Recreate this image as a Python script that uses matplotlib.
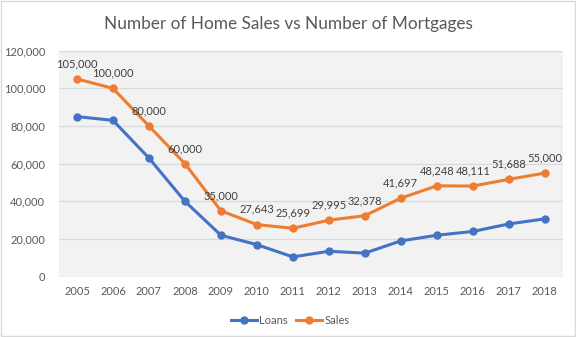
import matplotlib.pyplot as plt
from matplotlib.patches import Rectangle
from matplotlib.ticker import FuncFormatter

plt.rcParams['font.family'] = ['Lato', 'DejaVu Sans']

years = ['2005', '2006', '2007', '2008', '2009', '2010', '2011',
         '2012', '2013', '2014', '2015', '2016', '2017', '2018']
loans = [85000, 83000, 63000, 40000, 22000, 17000, 10500,
         13500, 12500, 19000, 22000, 24000, 28000, 30700]
sales = [105000, 100000, 80000, 60000, 35000, 27643, 25699,
         29995, 32378, 41697, 48248, 48111, 51688, 55000]

fig = plt.figure(figsize=(5.76, 3.37), dpi=100)
ax = fig.add_axes([0.1024, 0.179, 0.8746, 0.6706])

x = list(range(len(years)))
ax.plot(x, loans, color='#4472C4', lw=2.2, marker='o', ms=5, label='Loans')
ax.plot(x, sales, color='#ED7D31', lw=2.2, marker='o', ms=5, label='Sales')

# data labels above sales points
for xi, v in zip(x, sales):
    ax.annotate(f'{v:,}', (xi, v), xytext=(0, 7), textcoords='offset points',
                ha='center', va='bottom', fontsize=8, color='#404040')

ax.set_xlim(-0.5, len(years) - 0.5)
ax.set_ylim(0, 120000)
ax.set_yticks(range(0, 120001, 20000))
ax.yaxis.set_major_formatter(FuncFormatter(lambda v, p: f'{int(v):,}'))
ax.set_xticks(x)
ax.set_xticklabels(years)
ax.tick_params(axis='both', length=0, labelsize=8, labelcolor='#595959')
ax.tick_params(axis='y', pad=10)
ax.tick_params(axis='x', pad=7)

ax.set_facecolor('#F2F2F2')
ax.grid(axis='y', color='#D9D9D9', lw=0.9)
ax.set_axisbelow(True)
for s in ax.spines.values():
    s.set_visible(False)

fig.text(0.501, 0.928, 'Number of Home Sales vs Number of Mortgages', ha='center',
         va='center', fontsize=12.4, color='#595959')

fig.legend(loc='center', bbox_to_anchor=(0.504, 0.05), ncol=2, frameon=False,
           fontsize=8, labelcolor='#595959', handlelength=2.3, columnspacing=0.8,
           handletextpad=0.2)

fig.patches.append(Rectangle((0.002, 0.003), 0.996, 0.994, transform=fig.transFigure,
                             fill=False, edgecolor='#D9D9D9', lw=1))

fig.savefig('out.png', dpi=100)
